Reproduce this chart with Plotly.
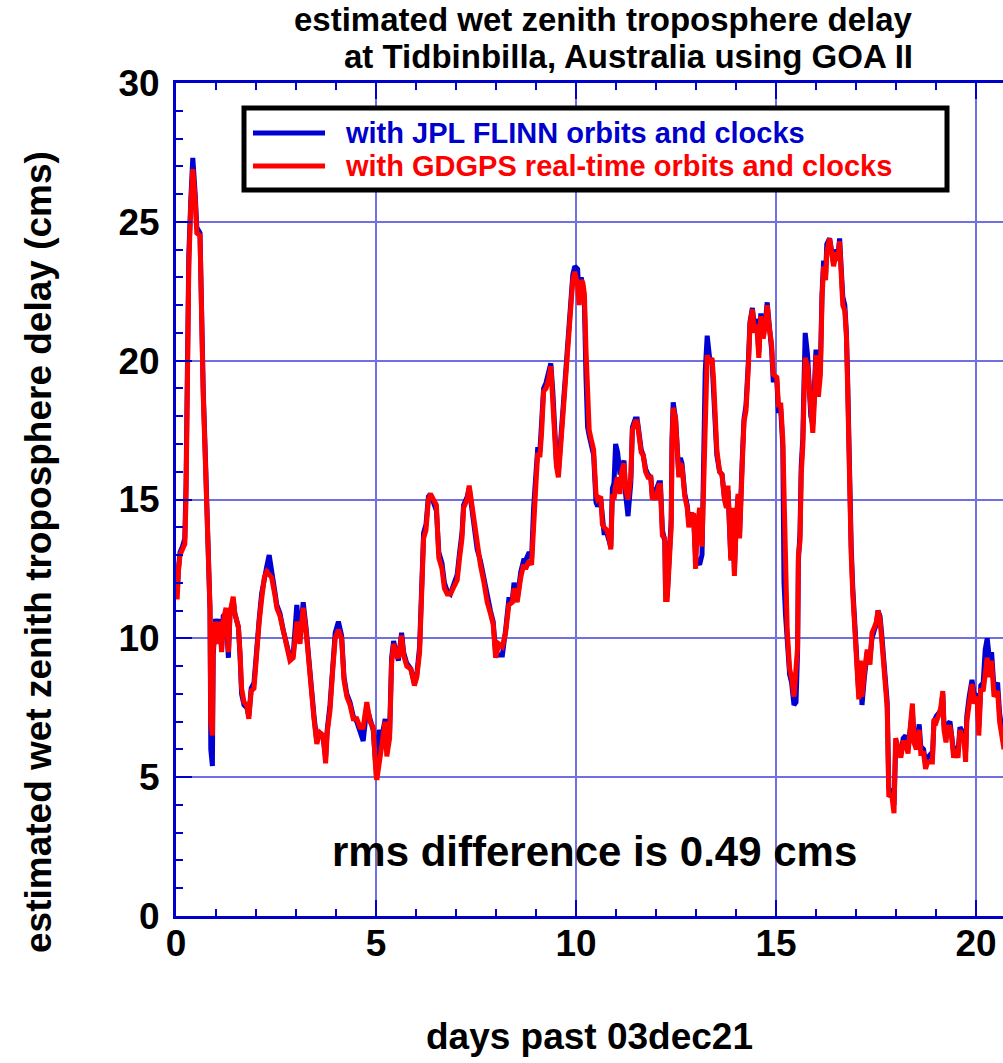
import plotly.graph_objects as go

# ---------------- data ----------------
days = [0.00, 0.03, 0.06, 0.10, 0.16, 0.22, 0.25, 0.28, 0.32, 0.37, 0.42, 0.48, 0.52, 0.60, 0.62, 0.65, 0.68, 0.74,
        0.81, 0.85, 0.87, 0.91, 0.93, 0.99, 1.06, 1.10, 1.14, 1.18, 1.25, 1.31, 1.35, 1.43, 1.47, 1.56, 1.60, 1.64,
        1.70, 1.77, 1.82, 1.88, 1.95, 2.02, 2.08, 2.14, 2.21, 2.27, 2.33, 2.39, 2.48, 2.52, 2.60, 2.68, 2.77, 2.85,
        2.93, 2.98, 3.02, 3.10, 3.14, 3.18, 3.25, 3.31, 3.39, 3.45, 3.52, 3.60, 3.68, 3.74, 3.78, 3.85, 3.92, 3.98,
        4.06, 4.14, 4.20, 4.27, 4.35, 4.43, 4.52, 4.60, 4.68, 4.77, 4.85, 4.93, 5.00, 5.02, 5.08, 5.14, 5.23, 5.27,
        5.34, 5.39, 5.44, 5.50, 5.56, 5.64, 5.69, 5.77, 5.87, 5.96, 6.02, 6.09, 6.13, 6.19, 6.25, 6.31, 6.36, 6.44,
        6.51, 6.57, 6.65, 6.71, 6.78, 6.86, 6.94, 7.03, 7.09, 7.15, 7.19, 7.28, 7.33, 7.38, 7.43, 7.49, 7.53, 7.61,
        7.70, 7.78, 7.86, 7.93, 7.99, 8.07, 8.16, 8.24, 8.32, 8.41, 8.45, 8.53, 8.62, 8.69, 8.74, 8.83, 8.89, 8.94,
        9.00, 9.04, 9.10, 9.14, 9.19, 9.25, 9.31, 9.37, 9.42, 9.47, 9.51, 9.56, 9.61, 9.67, 9.72, 9.79, 9.83, 9.87,
        9.92, 9.97, 10.04, 10.08, 10.13, 10.17, 10.21, 10.25, 10.29, 10.33, 10.39, 10.44, 10.50, 10.54, 10.62, 10.66,
        10.70, 10.77, 10.83, 10.87, 10.91, 10.95, 10.99, 11.04, 11.10, 11.14, 11.20, 11.24, 11.30, 11.37, 11.41,
        11.48, 11.53, 11.58, 11.63, 11.68, 11.74, 11.80, 11.87, 11.91, 11.95, 11.99, 12.03, 12.07, 12.11, 12.16,
        12.22, 12.24, 12.28, 12.31, 12.35, 12.38, 12.40, 12.43, 12.49, 12.53, 12.57, 12.61, 12.65, 12.72, 12.78,
        12.82, 12.88, 12.94, 12.99, 13.03, 13.09, 13.15, 13.19, 13.23, 13.28, 13.34, 13.40, 13.44, 13.48, 13.52,
        13.59, 13.65, 13.71, 13.76, 13.80, 13.84, 13.87, 13.92, 13.96, 14.00, 14.05, 14.09, 14.12, 14.16, 14.20,
        14.25, 14.31, 14.35, 14.41, 14.46, 14.52, 14.57, 14.62, 14.68, 14.74, 14.78, 14.83, 14.89, 14.93, 15.02,
        15.06, 15.12, 15.17, 15.20, 15.24, 15.28, 15.34, 15.39, 15.45, 15.50, 15.54, 15.56, 15.60, 15.63, 15.67,
        15.70, 15.73, 15.79, 15.84, 15.87, 15.92, 15.96, 16.00, 16.06, 16.11, 16.15, 16.19, 16.24, 16.27, 16.34,
        16.40, 16.44, 16.50, 16.55, 16.59, 16.63, 16.67, 16.72, 16.76, 16.79, 16.83, 16.88, 16.92, 16.96, 17.01,
        17.07, 17.11, 17.15, 17.21, 17.28, 17.35, 17.40, 17.46, 17.51, 17.55, 17.60, 17.64, 17.68, 17.72, 17.78,
        17.82, 17.89, 17.95, 17.99, 18.05, 18.12, 18.18, 18.24, 18.30, 18.35, 18.41, 18.45, 18.51, 18.58, 18.62,
        18.69, 18.74, 18.79, 18.85, 18.91, 18.95, 19.01, 19.06, 19.12, 19.17, 19.20, 19.25, 19.29, 19.35, 19.39,
        19.44, 19.49, 19.55, 19.60, 19.64, 19.70, 19.74, 19.77, 19.83, 19.90, 19.96, 20.03, 20.07, 20.12, 20.18,
        20.23, 20.28, 20.34, 20.39, 20.45, 20.54, 20.59, 20.67, 20.70]

gdgps = [12.6, 11.4, 12.4, 13.0, 13.2, 13.4, 15.0, 19.6, 23.4, 25.6, 26.9, 25.8, 24.6, 24.5, 22.3, 20.7, 18.8, 16.1,
         12.8, 11.1, 7.0, 6.5, 9.6, 10.6, 9.8, 10.6, 9.5, 10.6, 11.1, 9.5, 10.9, 11.5, 10.9, 10.4, 9.5, 8.2,
         7.7, 7.6, 7.1, 8.1, 8.2, 9.8, 10.6, 11.4, 12.2, 12.4, 12.3, 12.2, 11.5, 11.1, 10.8, 10.3, 9.8, 9.2,
         9.3, 10.3, 10.6, 9.8, 10.6, 11.1, 10.3, 9.2, 7.9, 7.1, 6.2, 6.6, 6.5, 5.5, 6.6, 7.4, 8.9, 10.0,
         10.3, 10.0, 8.5, 7.9, 7.6, 7.1, 7.1, 6.8, 6.8, 7.7, 7.0, 6.8, 5.1, 4.9, 5.5, 6.2, 7.0, 5.75,
         6.4, 9.1, 9.8, 9.4, 9.3, 10.1, 9.4, 9.0, 8.9, 8.3, 8.6, 9.5, 11.0, 13.6, 13.9, 15.0, 15.2, 15.0,
         14.8, 12.9, 12.5, 11.8, 11.6, 11.6, 11.8, 12.1, 12.9, 13.6, 14.7, 15.0, 15.5, 15.0, 14.4, 13.9, 13.2, 12.65,
         12.0, 11.3, 10.9, 10.5, 9.3, 9.8, 9.7, 10.2, 11.2, 11.3, 11.8, 11.3, 12.2, 12.65, 12.5, 12.8, 12.65, 14.5,
         15.6, 16.6, 16.6, 17.4, 18.9, 19.0, 19.3, 19.8, 18.7, 17.1, 16.2, 15.8, 16.8, 18.1, 19.3, 20.6, 21.2, 22.0,
         22.9, 23.2, 22.7, 22.0, 22.9, 22.8, 22.4, 20.4, 18.2, 17.5, 17.1, 16.8, 15.2, 15.0, 15.1, 14.1,
         14.0, 13.9, 13.6, 13.2, 15.2, 15.0, 15.5, 15.8, 15.2, 16.0, 16.3, 15.4, 15.0, 15.8, 17.5,
         17.8, 17.8, 17.1, 16.7, 16.6, 16.0, 15.8, 15.8, 15.0, 15.1, 15.0, 15.2, 15.5, 15.5, 13.7,
         13.6, 11.4, 11.4, 12.5, 13.9, 14.0, 16.8, 18.3, 17.9, 16.3, 15.8, 16.3, 16.2, 15.1, 14.7,
         14.0, 14.4, 14.5, 12.5, 13.9, 14.7, 13.3, 15.6, 19.1, 20.2, 19.9, 20.1, 19.3, 17.9, 16.8,
         16.0, 15.9, 15.0, 14.7, 15.5, 14.0, 12.8, 14.7, 12.25, 13.9, 15.2, 13.6, 15.6, 16.4, 17.8,
         18.2, 19.8, 21.3, 21.85, 21.0, 21.3, 20.1, 21.6, 20.8, 21.3, 22.0, 21.2, 20.6, 19.5, 19.4,
         18.4, 18.4, 17.15, 14.6, 11.1, 10.3, 8.9, 8.6, 7.9, 9.0, 9.7, 13.0, 13.5, 15.9, 16.9,
         18.7, 20.1, 19.8, 18.7, 17.85, 17.4, 18.5, 20.2, 18.7, 19.5, 22.2, 23.4, 22.9, 23.9, 24.4,
         23.7, 23.4, 23.9, 23.6, 24.3, 23.4, 22.0, 21.8, 20.9, 19.1, 15.5, 13.0, 11.6, 10.7, 9.2,
         7.8, 9.2, 7.9, 8.8, 9.6, 9.05, 10.2, 10.4, 10.6, 11.0, 10.7, 10.0, 9.2, 8.1, 7.5,
         4.3, 4.4, 3.7, 6.4, 6.1, 5.7, 6.25, 6.25, 5.85, 6.5, 7.65, 6.25, 6.0, 6.7, 5.85,
         5.85, 5.3, 5.55, 5.55, 5.55, 7.1, 7.0, 7.2, 7.5, 8.1, 6.7, 6.25, 6.8, 6.8, 6.5,
         5.7, 6.0, 5.7, 6.7, 6.5, 6.4, 5.55, 7.0, 7.65, 8.35, 7.65, 7.9, 6.5, 8.2, 8.1,
         8.9, 9.3, 8.6, 9.2, 7.9, 8.1, 7.0, 6.25, 6.0]

flinn = [12.6, 11.6, 12.5, 13.1, 13.3, 13.6, 15.5, 19.9, 23.8, 25.8, 27.3, 26.0, 24.8, 24.6, 22.5, 20.9, 19.0, 16.3,
         12.9, 11.0, 6.0, 5.4, 9.4, 10.7, 9.9, 10.7, 9.6, 10.8, 10.9, 9.3, 10.9, 11.4, 10.9, 10.4, 9.4, 8.0,
         7.6, 7.5, 7.2, 8.2, 8.4, 9.9, 10.7, 11.6, 12.3, 12.6, 13.0, 12.3, 11.6, 11.2, 10.9, 10.3, 9.7, 9.3,
         9.4, 10.5, 11.2, 10.0, 10.8, 11.3, 10.4, 9.3, 8.0, 7.2, 6.3, 6.6, 6.4, 5.7, 6.7, 7.6, 9.0, 10.2,
         10.6, 10.1, 8.6, 8.0, 7.7, 7.2, 7.0, 6.7, 6.3, 7.5, 7.1, 6.7, 5.3, 5.6, 6.7, 6.4, 7.1, 6.0,
         6.6, 9.3, 9.9, 9.5, 9.2, 10.2, 9.5, 9.1, 8.9, 8.4, 8.7, 9.7, 11.3, 13.8, 14.1, 15.1, 15.2, 14.9,
         14.6, 13.1, 12.7, 12.0, 11.7, 11.6, 11.9, 12.3, 13.1, 13.8, 14.8, 15.1, 15.4, 14.9, 14.3, 13.8, 13.2, 12.8,
         12.1, 11.5, 11.0, 10.6, 9.5, 9.4, 9.4, 10.3, 11.4, 11.4, 12.0, 11.4, 12.4, 12.8, 12.8, 13.1, 12.9, 14.7,
         15.8, 16.8, 16.8, 17.6, 19.0, 19.2, 19.5, 19.9, 18.9, 17.3, 16.4, 16.0, 17.0, 18.3, 19.5, 20.8, 21.4, 22.2,
         23.1, 23.4, 23.3, 22.3, 23.0, 22.7, 22.0, 19.4, 17.6, 17.3, 17.0, 16.6, 14.9, 14.75, 15.0, 14.3,
         13.8, 13.8, 13.5, 13.3, 15.4, 15.6, 17.0, 16.7, 15.9, 16.2, 16.4, 15.2, 14.4, 15.6, 17.6,
         17.9, 17.9, 17.2, 16.8, 16.6, 16.1, 15.9, 15.8, 15.1, 15.1, 15.3, 15.5, 15.6, 15.6, 13.9,
         13.5, 11.6, 11.5, 12.7, 14.1, 14.3, 17.2, 18.5, 17.9, 16.4, 15.9, 16.5, 16.3, 15.2, 14.8,
         14.2, 14.5, 14.4, 12.9, 12.8, 12.65, 13.0, 15.8, 19.6, 20.9, 20.1, 20.0, 19.1, 17.7, 16.6,
         16.0, 15.9, 15.1, 14.8, 15.3, 13.8, 12.9, 14.5, 12.4, 14.0, 15.1, 13.8, 15.8, 16.6, 17.9,
         18.4, 20.0, 21.4, 21.9, 21.2, 21.5, 20.3, 21.7, 21.0, 21.5, 22.1, 21.3, 20.4, 19.3, 19.3,
         18.2, 18.2, 16.9, 12.0, 10.8, 10.1, 8.7, 8.4, 7.6, 7.7, 9.5, 12.8, 13.8, 16.2, 17.2,
         19.2, 21.0, 20.2, 18.9, 18.0, 17.7, 18.8, 20.4, 19.0, 19.8, 22.4, 23.6, 23.1, 24.2, 24.4,
         23.9, 23.5, 24.0, 23.8, 24.4, 23.6, 22.3, 22.0, 21.0, 19.4, 15.9, 13.3, 11.8, 10.9, 9.4,
         8.0, 9.0, 7.6, 8.6, 9.5, 9.3, 10.0, 10.3, 10.5, 11.0, 10.8, 10.2, 9.4, 8.3, 7.7,
         4.6, 4.5, 4.0, 6.0, 5.9, 5.8, 6.4, 6.5, 6.0, 6.6, 7.4, 6.4, 6.2, 6.9, 6.1,
         6.0, 5.5, 5.7, 5.8, 5.7, 7.0, 7.2, 7.3, 7.4, 8.0, 6.9, 6.4, 6.9, 7.0, 6.6,
         5.9, 6.1, 5.9, 6.8, 6.7, 6.5, 5.9, 7.2, 7.9, 8.5, 7.9, 8.0, 6.8, 8.3, 8.4,
         9.6, 10.0, 9.2, 9.5, 8.2, 8.4, 7.3, 6.5, 6.2]

x_ticks = [0, 5, 10, 15, 20]
y_ticks = [0, 5, 10, 15, 20, 25, 30]

title_line1 = "estimated wet zenith troposphere delay"
title_line2 = "at Tidbinbilla, Australia using GOA II"
x_title = "days past 03dec21"
y_title = "estimated wet zenith troposphere delay (cms)"
name_flinn = "with JPL FLINN orbits and clocks"
name_gdgps = "with GDGPS real-time orbits and clocks"
rms_note = "rms difference is 0.49 cms"

# ---------------- styling ----------------
W, H = 1003, 1063
L, R, T, B = 176, 0, 83, 147
PW, PH = W - L - R, H - T - B
FONT = "Liberation Sans, Arial, Helvetica, sans-serif"
AXIS_BLUE = "rgb(0,0,204)"
GRID = "rgb(112,112,226)"
BLUE = "rgb(0,0,210)"
RED = "rgb(255,0,0)"


def px(xp):
    return (xp - L) / PW


def py(yp):
    return (H - B - yp) / PH


fig = go.Figure()
fig.add_trace(go.Scatter(x=days, y=flinn, mode="lines", name=name_flinn,
                         line=dict(color=BLUE, width=5), showlegend=False))
fig.add_trace(go.Scatter(x=days, y=gdgps, mode="lines", name=name_gdgps,
                         line=dict(color=RED, width=5), showlegend=False))

axis_common = dict(
    showline=True, linecolor=AXIS_BLUE, linewidth=3,
    ticks="inside", ticklen=16, tickwidth=2, tickcolor=AXIS_BLUE,
    showgrid=True, gridcolor=GRID, gridwidth=2,
    zeroline=False,
    tickfont=dict(family=FONT, size=37, color="black", weight="bold"),
    minor=dict(dtick=1, ticks="inside", ticklen=7, tickwidth=2, tickcolor=AXIS_BLUE, showgrid=False),
)

fig.update_xaxes(range=[0, PW / 40.0], tickvals=x_ticks, mirror="ticks",
                 ticklabelstandoff=-7,
                 title=dict(text=x_title, standoff=60,
                            font=dict(family=FONT, size=37, color="black", weight="bold")),
                 **axis_common)
fig.update_yaxes(range=[0, 30], tickvals=y_ticks, mirror=False,
                 ticklabelstandoff=6,
                 **axis_common)

annotations = [
    dict(text=title_line1, x=px(915), y=py(19), xref="paper", yref="paper",
         xanchor="right", yanchor="middle", showarrow=False,
         font=dict(family=FONT, size=33, color="black", weight="bold")),
    dict(text=title_line2, x=px(915), y=py(56.5), xref="paper", yref="paper",
         xanchor="right", yanchor="middle", showarrow=False,
         font=dict(family=FONT, size=33, color="black", weight="bold")),
    dict(text=y_title, x=px(38), y=py(552), xref="paper", yref="paper",
         xanchor="center", yanchor="middle", showarrow=False, textangle=-90,
         font=dict(family=FONT, size=37, color="black", weight="bold")),
    dict(text=rms_note, x=px(594), y=py(851), xref="paper", yref="paper",
         xanchor="center", yanchor="middle", showarrow=False,
         font=dict(family=FONT, size=42, color="black", weight="bold")),
    dict(text=name_flinn, x=px(343), y=py(133), xref="paper", yref="paper",
         xanchor="left", yanchor="middle", showarrow=False,
         font=dict(family=FONT, size=29, color=AXIS_BLUE, weight="bold")),
    dict(text=name_gdgps, x=px(343), y=py(166), xref="paper", yref="paper",
         xanchor="left", yanchor="middle", showarrow=False,
         font=dict(family=FONT, size=29, color=RED, weight="bold")),
]

shapes = [
    dict(type="rect", xref="paper", yref="paper", x0=px(244), x1=px(947), y0=py(190), y1=py(108),
         line=dict(color="black", width=5), fillcolor="white", layer="above"),
    dict(type="line", xref="paper", yref="paper", x0=px(253), x1=px(325), y0=py(133), y1=py(133),
         line=dict(color=BLUE, width=5), layer="above"),
    dict(type="line", xref="paper", yref="paper", x0=px(253), x1=px(325), y0=py(166), y1=py(166),
         line=dict(color=RED, width=5), layer="above"),
]

fig.update_layout(
    width=W, height=H,
    margin=dict(l=L, r=R, t=T, b=B, autoexpand=False),
    paper_bgcolor="white", plot_bgcolor="white",
    annotations=annotations, shapes=shapes,
    showlegend=False,
    font=dict(family=FONT, color="black"),
)

fig.write_html("out.html")
